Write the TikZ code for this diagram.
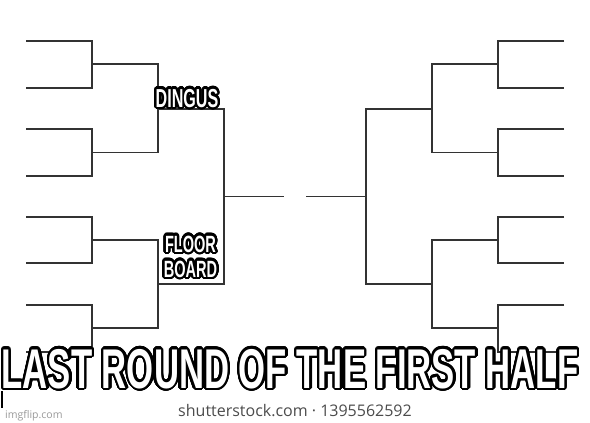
\documentclass[tikz,border=0pt]{standalone}
\usepackage{fontspec}
\usepackage{contour}
\newfontfamily\memefont[FakeStretch=0.62]{Liberation Sans}
\newfontfamily\stockfont{Open Sans}
\contourlength{2.3pt}
\contournumber{32}

\begin{document}
\begin{tikzpicture}[
    x=1pt, y=-1pt,
    bracket/.style={draw=black!80, line width=1.7pt, line join=miter},
    meme/.style={text=white, inner sep=0pt},
    stamp/.style={inner sep=0pt}
]

  % --- canvas ---
  \fill[white] (0,0) rectangle (590,423);
  \useasboundingbox (0,0) rectangle (590,423);

  % --- LEFT HALF ---
  \begin{scope}
    \foreach \a/\b in {41/87.7,129/175.7,216.7/263.3,305/351.7}
      \draw[bracket] (26,\a) -- (92,\a) -- (92,\b) -- (26,\b);
    \draw[bracket] (92,64.3) -- (158,64.3) -- (158,152.5) -- (92,152.5);
    \draw[bracket] (92,240.3) -- (158,240.3) -- (158,328) -- (92,328);
    \draw[bracket] (158,109) -- (224,109) -- (224,284) -- (158,284);
    \draw[bracket] (224,196.5) -- (284,196.5);
  \end{scope}

  % --- RIGHT HALF (mirrored) ---
  \begin{scope}[xshift=590pt, xscale=-1]
    \foreach \a/\b in {41/87.7,129/175.7,216.7/263.3,305/351.7}
      \draw[bracket] (26,\a) -- (92,\a) -- (92,\b) -- (26,\b);
    \draw[bracket] (92,64.3) -- (158,64.3) -- (158,152.5) -- (92,152.5);
    \draw[bracket] (92,240.3) -- (158,240.3) -- (158,328) -- (92,328);
    \draw[bracket] (158,109) -- (224,109) -- (224,284) -- (158,284);
    \draw[bracket] (224,196.5) -- (284,196.5);
  \end{scope}

  % --- winners written on the bracket ---
  \node[meme, anchor=base, font=\memefont\bfseries\fontsize{26}{27}\selectfont]
    (dingus) at (187,107) {\contour{black}{DINGUS}};
  \node[meme, anchor=base, align=center, font=\memefont\bfseries\fontsize{23.5}{25}\selectfont]
    (floorboard) at (190.5,277) {\contour{black}{FLOOR}\\\contour{black}{BOARD}};

  % --- caption ---
  \node[meme, anchor=base, font=\memefont\bfseries\fontsize{56}{60}\selectfont]
    (caption) at (290,388) {\contour{black}{LAST ROUND OF THE FIRST HALF}};

  % --- watermarks ---
  \draw[line width=2pt] (2,391) -- (2,408);
  \node[stamp, anchor=base, text=black!70, font=\stockfont\fontsize{16}{17}\selectfont]
    (stock) at (295,416) {shutterstock.com · 1395562592};
  \node[stamp, anchor=base west, text=black!40, font=\stockfont\fontsize{10.5}{12}\selectfont]
    (imgflip) at (5,418) {imgflip.com};

\end{tikzpicture}
\end{document}
